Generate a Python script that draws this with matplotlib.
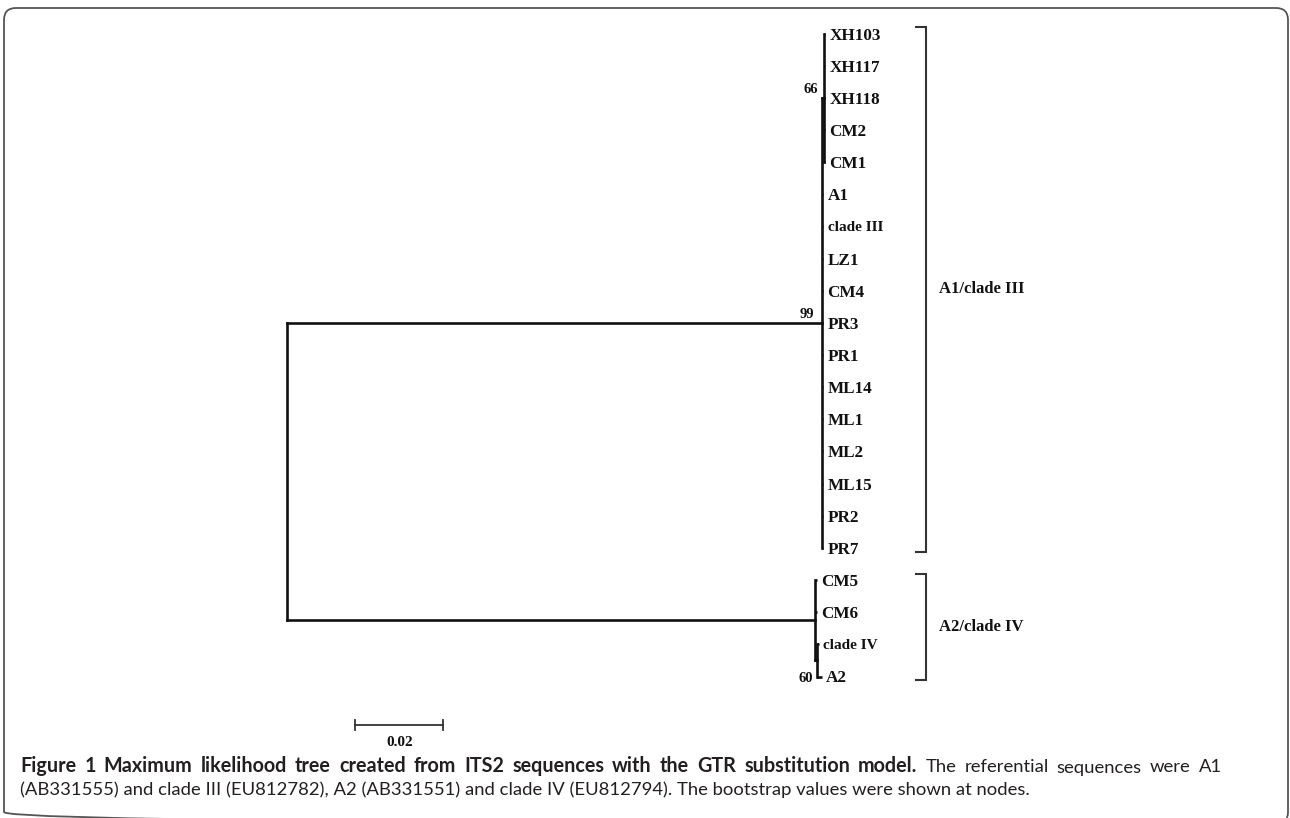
import matplotlib
matplotlib.use("Agg")
import matplotlib.pyplot as plt
from matplotlib.patches import FancyBboxPatch

# tip order, top to bottom
clade1_tips = ["XH103", "XH117", "XH118", "CM2", "CM1", "A1", "clade III", "LZ1",
               "CM4", "PR3", "PR1", "ML14", "ML1", "ML2", "ML15", "PR2", "PR7"]
clade2_tips = ["CM5", "CM6", "clade IV", "A2"]

# tree: (bootstrap, branch length, children); a plain string is a tip
tree = ("", 0.0, [
    ("99", 0.1216, [("66", 0.00045, ["XH103", "XH117", "XH118", "CM2", "CM1"]),
                    "A1", "clade III", "LZ1", "CM4", "PR3", "PR1", "ML14",
                    "ML1", "ML2", "ML15", "PR2", "PR7"]),
    ("", 0.1200, ["CM5", "CM6", ("60", 0.00045, ["clade IV", "A2"])]),
])
tip_lengths = {"A2": 0.0011, "clade IV": 0.0005, "CM5": 0.0005, "CM6": 0.0005}

groups = ["A1/clade III", "A2/clade IV"]
group_tips = [clade1_tips, clade2_tips]

scale_len = 0.02
scale_label = "0.02"

caption_bold = "Figure 1 Maximum likelihood tree created from ITS2 sequences with the GTR substitution model."
caption_rest = "The referential sequences were A1"
caption_line2 = "(AB331555) and clade III (EU812782), A2 (AB331551) and clade IV (EU812794). The bootstrap values were shown at nodes."

LINE = "#111111"
TXT = "#231f20"
serif = "Liberation Serif"

fig = plt.figure(figsize=(12.9, 8.18), dpi=100)

# background axes in pixels for frame and caption
bg = fig.add_axes([0, 0, 1, 1], zorder=0)
bg.set_xlim(0, 1290)
bg.set_ylim(818, 0)
bg.axis("off")
bg.add_patch(FancyBboxPatch((4, 8), 1284, 816, boxstyle="round,pad=0,rounding_size=12",
                            fc="none", ec="#555555", lw=1.3))

# tree axes: x in substitutions/site, y in tip rows
ax = fig.add_axes([0, 0, 1, 1], zorder=1)
ax.patch.set_alpha(0)
ax.set_xlim(-287 / 4400, (1290 - 287) / 4400)
ax.set_ylim((818 - 33.5) / 32.15, -33.5 / 32.15)
ax.axis("off")

rows = {name: i for i, name in enumerate(clade1_tips + clade2_tips)}
boot_offsets = {"99": (-6, 7), "66": (-4, 7), "60": (-3, -12)}
lw = 1.9


def draw(node, x0):
    if isinstance(node, str):
        y = rows[node]
        x1 = x0 + tip_lengths.get(node, 0.0003)
        ax.plot([x0, x1], [y, y], color=LINE, lw=lw, solid_capstyle="butt")
        small = node.startswith("clade")
        ax.annotate(node, (x1, y), xytext=(3, 0), textcoords="offset points",
                    ha="left", va="center_baseline", family=serif, weight="bold",
                    fontsize=11 if small else 12.3, color=LINE)
        return y
    boot, length, children = node
    x1 = x0 + length
    ys = [draw(c, x1) for c in children]
    y = (ys[0] + ys[-1]) / 2
    ax.plot([x1, x1], [ys[0], ys[-1]], color=LINE, lw=lw, solid_capstyle="projecting")
    if length > 0:
        ax.plot([x0, x1], [y, y], color=LINE, lw=lw, solid_capstyle="projecting")
    if boot:
        ax.annotate(boot, (x1, y), xytext=boot_offsets[boot], textcoords="offset points",
                    ha="right", va="center_baseline", family=serif, weight="bold",
                    fontsize=10.5, color=LINE)
    return y


draw(tree, 0.0)

# clade brackets
bx = 0.1452
hook = 10 / 4400
for name, tips in zip(groups, group_tips):
    top = rows[tips[0]] - 0.2
    bot = rows[tips[-1]] + 0.12
    ax.plot([bx - hook, bx, bx, bx - hook], [top, top, bot, bot], color="#333333",
            lw=1.5, solid_joinstyle="miter")
    ax.text(bx + 13 / 4400, (top + bot) / 2, name, ha="left", va="center",
            family=serif, weight="bold", fontsize=12, color=LINE)

# scale bar
sx = 0.0155
sy = 21.5
tk = 0.15
ax.plot([sx, sx + scale_len], [sy, sy], color="#333333", lw=1.3)
ax.plot([sx, sx], [sy - tk, sy + tk], color="#333333", lw=1.3)
ax.plot([sx + scale_len] * 2, [sy - tk, sy + tk], color="#333333", lw=1.3)
ax.text(sx + scale_len / 2, sy + 0.55, scale_label, ha="center", va="center",
        family=serif, weight="bold", fontsize=11, color=LINE)

# caption: last line set naturally, first line justified to the full width
cap_font = "Lato"
r = fig.canvas.get_renderer()
t3 = bg.text(20, 794.5, caption_line2, family=cap_font, fontsize=12, color=TXT)
size = 12 * 1005 / t3.get_window_extent(r).width
t3.set_fontsize(size)
bold_size = size * 1.07

words = [(w, "bold", bold_size) for w in caption_bold.split()] + \
        [(w, "normal", size) for w in caption_rest.split()]
texts = [bg.text(0, 772.5, w, family=cap_font, weight=wt, fontsize=fs, color=TXT)
         for w, wt, fs in words]
widths = [t.get_window_extent(r).width for t in texts]
gap = (1222 - 20 - sum(widths)) / (len(texts) - 1)
x = 20
for t, w in zip(texts, widths):
    t.set_x(x)
    x += w + gap

fig.savefig("out.png", dpi=100)
